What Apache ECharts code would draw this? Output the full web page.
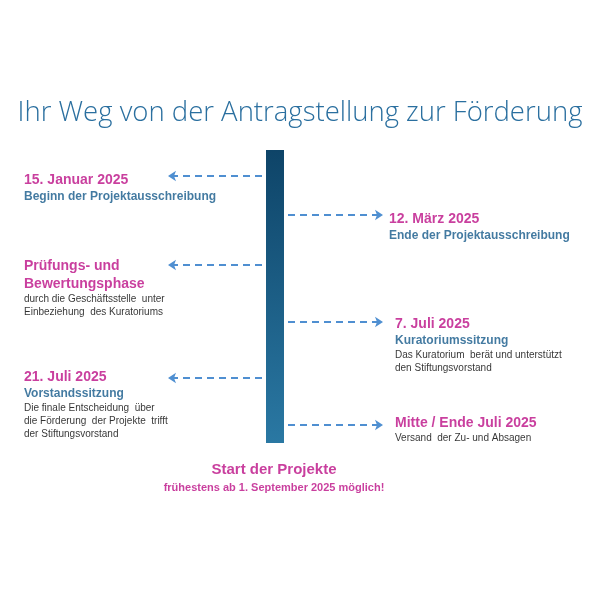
<!DOCTYPE html>
<html><head><meta charset="utf-8">
<script src="https://cdn.jsdelivr.net/npm/echarts@6/dist/echarts.min.js"></script>
<style>html,body{margin:0;background:#fff}#c{width:600px;height:600px}</style></head>
<body><div id="c"></div>
<script>
const titleText = "Ihr Weg von der Antragstellung zur Förderung";
const eventSide = ["left","right","left","right","left","right"];
const eventY = [176, 215, 265, 322, 378, 425];
const eventTitles = [["15. Januar 2025"],["12. März 2025"],["Prüfungs- und","Bewertungsphase"],["7. Juli 2025"],["21. Juli 2025"],["Mitte / Ende Juli 2025"]];
const eventSubs = ["Beginn der Projektausschreibung","Ende der Projektausschreibung","","Kuratoriumssitzung","Vorstandssitzung",""];
const eventDesc = [[],[],["durch die Geschäftsstelle  unter","Einbeziehung  des Kuratoriums"],["Das Kuratorium  berät und unterstützt","den Stiftungsvorstand"],["Die finale Entscheidung  über","die Förderung  der Projekte  trifft","der Stiftungsvorstand"],["Versand  der Zu- und Absagen"]];
const labelTop = [171, 210, 257, 315, 368, 414];
const labelX = [24, 389, 24, 395, 24, 395];
const footer = ["Start der Projekte","frühestens ab 1. September 2025 möglich!"];

const barX = 275, barTop = 150, barBottom = 443;
const arrows = eventY.map((y,i)=> eventSide[i]==="left"
  ? {coords:[[262,y],[168,y]]} : {coords:[[288,y],[383,y]]});

const labels = eventY.map((y,i)=>{
  let parts = eventTitles[i].map(t=>`{t|${t}}`);
  if (eventSubs[i]) parts.push(`{s|${eventSubs[i]}}`);
  eventDesc[i].forEach(d=>parts.push(`{d|${d}}`));
  return {value:[labelX[i], labelTop[i]], fmt: parts.join("\n")};
});

const chart = echarts.init(document.getElementById('c'));
chart.setOption({
  animation:false,
  title:{text:titleText,left:'center',top:94,textStyle:{fontFamily:'Open Sans',fontWeight:300,fontSize:27.5,color:'#2a6f9f'}},
  grid:{left:0,right:0,top:0,bottom:0},
  xAxis:{type:'value',min:0,max:600,show:false},
  yAxis:{type:'value',min:0,max:600,inverse:true,show:false},
  series:[
    {type:'custom',renderItem:(p,api)=>{
      const a=api.coord([barX-9,barTop]), b=api.coord([barX+9,barBottom]);
      return {type:'rect',shape:{x:a[0],y:a[1],width:b[0]-a[0],height:b[1]-a[1]},
        style:{fill:new echarts.graphic.LinearGradient(0,0,0,1,[{offset:0,color:'#0e4468'},{offset:1,color:'#2a78a3'}])}};
    },data:[[barX,barTop]]},
    {type:'lines',coordinateSystem:'cartesian2d',symbol:['none','arrow'],symbolSize:8,
      lineStyle:{color:'#4f8fd1',width:2,type:[7,5],opacity:1},data:arrows},
    {type:'scatter',symbolSize:0,data:labels.map(l=>({value:l.value,fmt:l.fmt})),
      label:{show:true,position:[0,0],align:'left',verticalAlign:'top',
        formatter:p=>p.data.fmt,fontFamily:'Liberation Sans',
        rich:{t:{fontSize:14,fontWeight:'bold',color:'#bc0f86',lineHeight:18,fontFamily:'Liberation Sans'},
              s:{fontSize:12,fontWeight:'bold',color:'#14598a',lineHeight:16,fontFamily:'Liberation Sans'},
              d:{fontSize:10,color:'#000',lineHeight:13,fontFamily:'Liberation Sans'}}}},
    {type:'scatter',symbolSize:0,data:[{value:[274,470],f:0,label:{fontSize:15}},{value:[274,488],f:1}],
      label:{show:true,position:[0,0],align:'center',verticalAlign:'middle',
        formatter:p=>footer[p.data.f],fontFamily:'Liberation Sans',fontWeight:'bold',color:'#bc0f86',
        fontSize:11}}
  ]
});
</script></body></html>
